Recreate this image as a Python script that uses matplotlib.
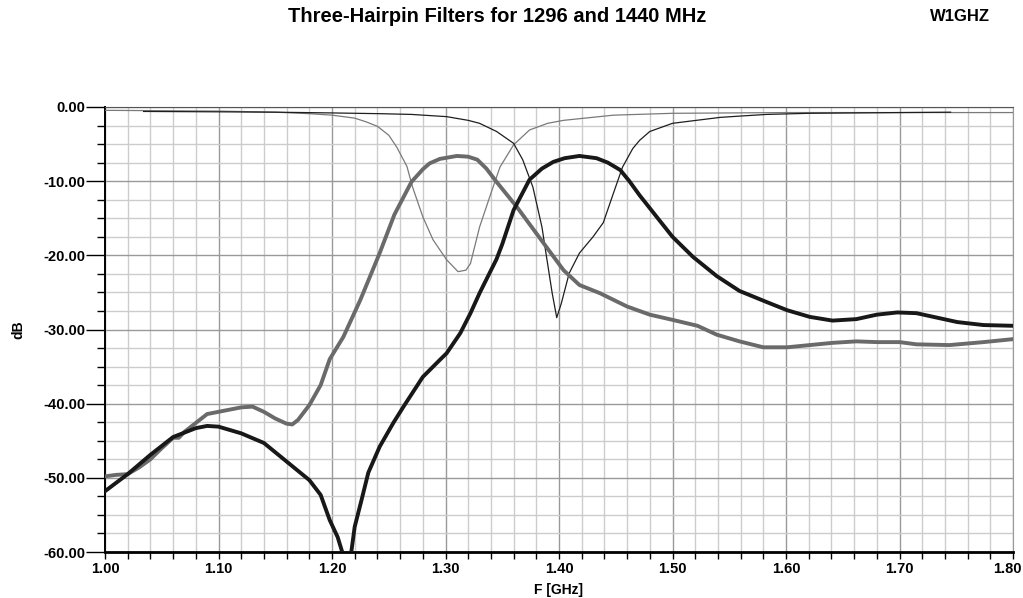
import numpy as np
import matplotlib
matplotlib.use('Agg')
import matplotlib.pyplot as plt
import matplotlib.transforms as mtransforms
from matplotlib.ticker import MultipleLocator, FormatStrFormatter

plt.rcParams['font.family'] = ['Liberation Sans', 'DejaVu Sans']
plt.rcParams['font.weight'] = 'bold'

# S21, 1296 MHz filter (thick gray)
f_s21_1296 = [1.00, 1.01, 1.02, 1.03, 1.04, 1.05, 1.06, 1.065, 1.07, 1.08, 1.09, 1.10, 1.11, 1.12,
              1.13, 1.14, 1.15, 1.16, 1.165, 1.17, 1.18, 1.19, 1.198, 1.21, 1.225, 1.242, 1.255,
              1.270, 1.28, 1.286, 1.295, 1.31, 1.32, 1.328, 1.336, 1.345, 1.363, 1.389, 1.404,
              1.418, 1.436, 1.460, 1.480, 1.500, 1.522, 1.539, 1.559, 1.580, 1.601, 1.621, 1.641,
              1.662, 1.680, 1.700, 1.715, 1.744, 1.774, 1.80]
db_s21_1296 = [-49.8, -49.6, -49.5, -48.6, -47.5, -46.0, -44.6, -44.6, -43.8, -42.6, -41.4, -41.1,
               -40.8, -40.5, -40.4, -41.1, -42.0, -42.7, -42.8, -42.2, -40.2, -37.5, -34.0, -31.0,
               -26.0, -19.7, -14.5, -10.1, -8.4, -7.6, -7.0, -6.6, -6.7, -7.1, -8.3, -10.1, -13.5,
               -18.9, -22.0, -24.0, -25.1, -26.9, -28.0, -28.7, -29.5, -30.7, -31.6, -32.4, -32.4,
               -32.1, -31.8, -31.6, -31.7, -31.7, -32.0, -32.1, -31.7, -31.3]

# S21, 1440 MHz filter (thick black)
f_s21_1440 = [1.00, 1.02, 1.04, 1.06, 1.08, 1.09, 1.10, 1.12, 1.14, 1.16, 1.18, 1.19, 1.198, 1.205,
              1.209, 1.2135, 1.217, 1.220, 1.226, 1.232, 1.242, 1.254, 1.263, 1.280, 1.295, 1.301,
              1.313, 1.322, 1.33, 1.345, 1.35, 1.36, 1.374, 1.385, 1.395, 1.405, 1.418, 1.433,
              1.443, 1.454, 1.462, 1.471, 1.486, 1.500, 1.518, 1.539, 1.559, 1.583, 1.601, 1.621,
              1.641, 1.662, 1.680, 1.698, 1.715, 1.730, 1.751, 1.774, 1.80]
db_s21_1440 = [-51.8, -49.5, -46.9, -44.5, -43.3, -43.0, -43.1, -44.0, -45.3, -47.8, -50.3, -52.3,
               -55.7, -58.0, -60.0, -75.0, -60.0, -56.6, -53.0, -49.3, -45.8, -42.6, -40.4, -36.4,
               -34.1, -33.2, -30.5, -27.8, -25.1, -20.5, -18.5, -13.9, -9.8, -8.3, -7.4, -6.9,
               -6.6, -6.9, -7.5, -8.5, -10.0, -11.9, -14.8, -17.5, -20.2, -22.8, -24.8, -26.3,
               -27.4, -28.3, -28.8, -28.6, -28.0, -27.7, -27.8, -28.3, -29.0, -29.4, -29.5]

# S11, 1296 MHz filter (thin gray)
f_s11_1296 = [1.00, 1.10, 1.15, 1.18, 1.20, 1.22, 1.23, 1.24, 1.25, 1.257, 1.266, 1.271, 1.280,
              1.289, 1.301, 1.311, 1.318, 1.322, 1.330, 1.339, 1.348, 1.360, 1.374, 1.39, 1.404,
              1.448, 1.50, 1.55, 1.60, 1.70, 1.80]
db_s11_1296 = [-0.45, -0.55, -0.7, -0.9, -1.1, -1.5, -2.0, -2.6, -3.8, -5.4, -8.0, -10.8, -14.8,
               -17.9, -20.6, -22.2, -22.0, -21.1, -16.2, -12.1, -8.1, -5.1, -3.1, -2.2, -1.8,
               -1.1, -0.85, -0.8, -0.75, -0.75, -0.75]

# S11, 1440 MHz filter (thin black)
f_s11_1440 = [1.034, 1.10, 1.15, 1.20, 1.242, 1.27, 1.301, 1.32, 1.330, 1.345, 1.360, 1.368, 1.377,
              1.385, 1.389, 1.394, 1.398, 1.402, 1.409, 1.418, 1.430, 1.439, 1.448, 1.456, 1.465,
              1.471, 1.480, 1.50, 1.521, 1.542, 1.562, 1.583, 1.62, 1.70, 1.745]
db_s11_1440 = [-0.6, -0.65, -0.7, -0.8, -0.9, -1.0, -1.3, -1.8, -2.2, -3.3, -4.9, -7.1, -10.8,
               -16.2, -20.2, -25.1, -28.4, -26.5, -22.4, -19.7, -17.5, -15.6, -11.6, -8.1, -5.6,
               -4.5, -3.3, -2.2, -1.8, -1.4, -1.2, -1.0, -0.85, -0.75, -0.7]

fig = plt.figure(figsize=(10.23, 5.98), dpi=100)
ax = fig.add_axes([105 / 1023, 1 - 552 / 598, 908 / 1023, 445 / 598])

ax.plot(f_s11_1296, db_s11_1296, color='#7a7a7a', lw=0.9, zorder=3)
ax.plot(f_s11_1440, db_s11_1440, color='#1e1e1e', lw=0.9, zorder=3)
ax.plot(f_s21_1296, db_s21_1296, color='#6a6a6a', lw=2.8, zorder=4)
ax.plot(f_s21_1440, db_s21_1440, color='#181818', lw=2.8, zorder=5)

ax.set_xlim(1.0, 1.8)
ax.set_ylim(-60, 0)
ax.xaxis.set_major_locator(MultipleLocator(0.1))
ax.xaxis.set_minor_locator(MultipleLocator(0.02))
ax.yaxis.set_major_locator(MultipleLocator(10))
ax.yaxis.set_minor_locator(MultipleLocator(2.5))
ax.xaxis.set_major_formatter(FormatStrFormatter('%.2f'))
ax.yaxis.set_major_formatter(FormatStrFormatter('%.2f'))

ax.grid(which='minor', color='#cccccc', lw=1.0)
ax.grid(which='major', color='#999999', lw=1.0)
ax.set_axisbelow(True)

ax.tick_params(axis='y', which='major', length=14, width=1, pad=0, labelsize=10.5)
ax.tick_params(axis='y', which='minor', length=6, width=1)
ax.tick_params(axis='x', which='major', length=5, width=1, pad=2, labelsize=10.5)
ax.tick_params(axis='x', which='minor', length=5, width=1)

ax.spines['left'].set_linewidth(1.4)
ax.spines['bottom'].set_linewidth(2)
ax.spines['top'].set_color('#555555')
ax.spines['right'].set_color('#999999')

ax.set_xlabel('F [GHz]', fontsize=10, fontweight='bold')
ax.xaxis.set_label_coords(0.5, -(590 - 552) / 445, transform=ax.transAxes)
ax.xaxis.label.set_va('center')
ax.set_ylabel('dB', fontsize=10, fontweight='bold')
ax.yaxis.set_label_coords(-(105 - 18) / 908, 0.5)
ax.yaxis.label.set_va('center')

# nudge the last x tick label ("1.80") so it stays inside the picture
fig.canvas.draw()
last = ax.xaxis.get_major_ticks()[-1].label1
if last.get_text() != '1.80':
    for t in ax.xaxis.get_major_ticks():
        if t.label1.get_text() == '1.80':
            last = t.label1
last.set_transform(last.get_transform() + mtransforms.ScaledTranslation(-6 / 100, 0, fig.dpi_scale_trans))

fig.text(0.486, 0.972, 'Three-Hairpin Filters for 1296 and 1440 MHz', ha='center', va='center',
         fontsize=14.5, fontweight='bold')
fig.text(0.968, 0.972, 'W1GHZ', ha='right', va='center', fontsize=12, fontweight='bold')

fig.savefig('out.png', dpi=100)
